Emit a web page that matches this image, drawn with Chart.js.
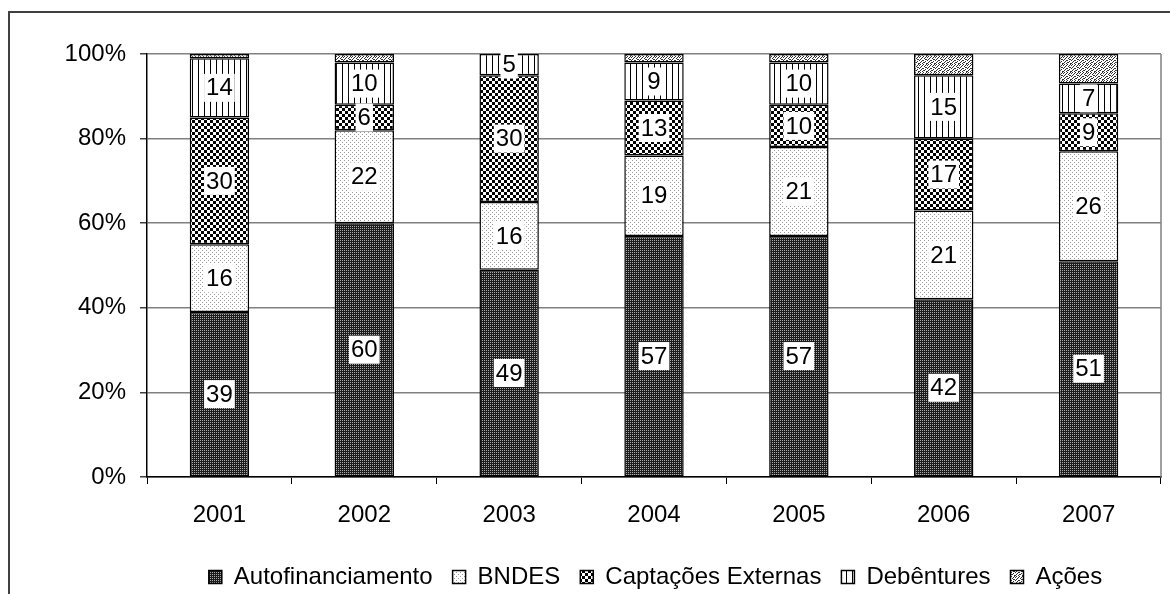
<!DOCTYPE html>
<html>
<head>
<meta charset="utf-8">
<script src="https://cdn.jsdelivr.net/npm/chart.js@4/dist/chart.umd.min.js"></script>
<style>
  body { margin: 0; background: #fff; }
</style>
</head>
<body>
<canvas id="chart" width="1170" height="594"></canvas>
<script>
const years = ['2001', '2002', '2003', '2004', '2005', '2006', '2007'];
const autofinanciamento = [39, 60, 49, 57, 57, 42, 51];
const bndes = [16, 22, 16, 19, 21, 21, 26];
const captacoesExternas = [30, 6, 30, 13, 10, 17, 9];
const debentures = [14, 10, 5, 9, 10, 15, 7];
const acoes = [1, 2, 0, 2, 2, 5, 7];

Chart.defaults.font.family = '"Liberation Sans", Arial, sans-serif';
Chart.defaults.font.size = 24;
Chart.defaults.color = '#000';

// small tiles used as fill patterns
function makePattern(w, h, draw) {
    const c = document.createElement('canvas');
    c.width = w;
    c.height = h;
    const g = c.getContext('2d');
    draw(g);
    return document.getElementById('chart').getContext('2d').createPattern(c, 'repeat');
}

const darkGrid = makePattern(2, 2, g => {
    g.fillStyle = '#1c1c1c';
    g.fillRect(0, 0, 2, 2);
    g.fillStyle = '#aaa';
    g.fillRect(0, 0, 1, 1);
});
const lightDots = makePattern(4, 4, g => {
    g.fillStyle = '#fff';
    g.fillRect(0, 0, 4, 4);
    g.fillStyle = '#999';
    g.fillRect(0, 0, 1, 1);
    g.fillRect(2, 2, 1, 1);
});
const checker = makePattern(6, 6, g => {
    g.fillStyle = '#fff';
    g.fillRect(0, 0, 6, 6);
    g.fillStyle = '#000';
    g.fillRect(0, 0, 3, 3);
    g.fillRect(3, 3, 3, 3);
});
const vLines = makePattern(6, 1, g => {
    g.fillStyle = '#fff';
    g.fillRect(0, 0, 6, 1);
    g.fillStyle = '#000';
    g.fillRect(0, 0, 1, 1);
});
const speckRows = ['10010010', '00100101', '01001000', '10000110', '00110001', '01000100', '10011000', '00100011'];
const specks = makePattern(8, 8, g => {
    g.fillStyle = '#fff';
    g.fillRect(0, 0, 8, 8);
    g.fillStyle = '#333';
    speckRows.forEach((row, y) => {
        for (let x = 0; x < row.length; x++) {
            if (row[x] === '1') g.fillRect(x, y, 1, 1);
        }
    });
});

const frame = {
    id: 'frame',
    afterLayout(chart) {
        // legend sits right of centre in the original
        chart.legend.left += 75;
        chart.legend.right += 75;
    },
    beforeDraw(chart) {
        const ctx = chart.ctx;
        ctx.save();
        ctx.fillStyle = '#fff';
        ctx.fillRect(0, 0, chart.width, chart.height);
        ctx.strokeStyle = '#404040';
        ctx.lineWidth = 2;
        ctx.strokeRect(9, 12, 1300, 700);
        ctx.restore();
    },
    beforeDatasetsDraw(chart) {
        const { ctx, chartArea } = chart;
        ctx.save();
        ctx.strokeStyle = '#808080';
        ctx.lineWidth = 1.5;
        ctx.beginPath();
        ctx.moveTo(chartArea.right, chartArea.top);
        ctx.lineTo(chartArea.right, chartArea.bottom);
        ctx.stroke();
        ctx.restore();
    }
};

// white boxed value labels in the middle of each segment
const segmentLabels = {
    id: 'segmentLabels',
    afterDatasetsDraw(chart) {
        const ctx = chart.ctx;
        ctx.save();
        ctx.font = '24px "Liberation Sans", Arial, sans-serif';
        ctx.textAlign = 'center';
        ctx.textBaseline = 'middle';
        chart.data.datasets.forEach((ds, i) => {
            if (!ds.showValues) return;
            chart.getDatasetMeta(i).data.forEach((bar, j) => {
                const text = String(ds.data[j]);
                const { x, y, base } = bar.getProps(['x', 'y', 'base'], true);
                const cy = (y + base) / 2;
                const w = ctx.measureText(text).width + 4;
                ctx.fillStyle = '#fff';
                ctx.fillRect(x - w / 2, cy - 14, w, 28);
                ctx.fillStyle = '#000';
                ctx.fillText(text, x, cy + 1);
            });
        });
        ctx.restore();
    }
};

const common = { borderColor: '#000', borderWidth: 1.5, borderSkipped: false };

new Chart(document.getElementById('chart'), {
    type: 'bar',
    data: {
        labels: years,
        datasets: [
            { label: 'Autofinanciamento', data: autofinanciamento, backgroundColor: darkGrid, showValues: true, ...common },
            { label: 'BNDES', data: bndes, backgroundColor: lightDots, showValues: true, ...common },
            { label: 'Captações Externas', data: captacoesExternas, backgroundColor: checker, showValues: true, ...common },
            { label: 'Debêntures', data: debentures, backgroundColor: vLines, showValues: true, ...common },
            { label: 'Ações', data: acoes, backgroundColor: specks, showValues: false, ...common }
        ]
    },
    options: {
        responsive: false,
        animation: false,
        datasets: {
            bar: { categoryPercentage: 1, barPercentage: 0.41 }
        },
        layout: { padding: { left: 0, top: 54, right: 9, bottom: -5 } },
        plugins: {
            legend: {
                position: 'bottom',
                labels: { boxWidth: 13, boxHeight: 13, padding: 20, font: { size: 24 } }
            },
            tooltip: { enabled: false }
        },
        scales: {
            x: {
                stacked: true,
                afterFit: s => { s.height = 68; },
                grid: { drawOnChartArea: false, tickLength: 7, tickColor: '#000', offset: true },
                border: { color: '#000', width: 1.5 },
                ticks: { padding: 17, font: { size: 24 } }
            },
            y: {
                stacked: true,
                min: 0,
                max: 100,
                afterFit: s => { s.width = 147; },
                grid: { color: '#808080', lineWidth: 1.5, tickLength: 7, tickColor: '#404040' },
                border: { color: '#000', width: 1.5 },
                ticks: { stepSize: 20, padding: 14, callback: v => v + '%', font: { size: 24 } }
            }
        }
    },
    plugins: [frame, segmentLabels]
});
</script>
</body>
</html>
